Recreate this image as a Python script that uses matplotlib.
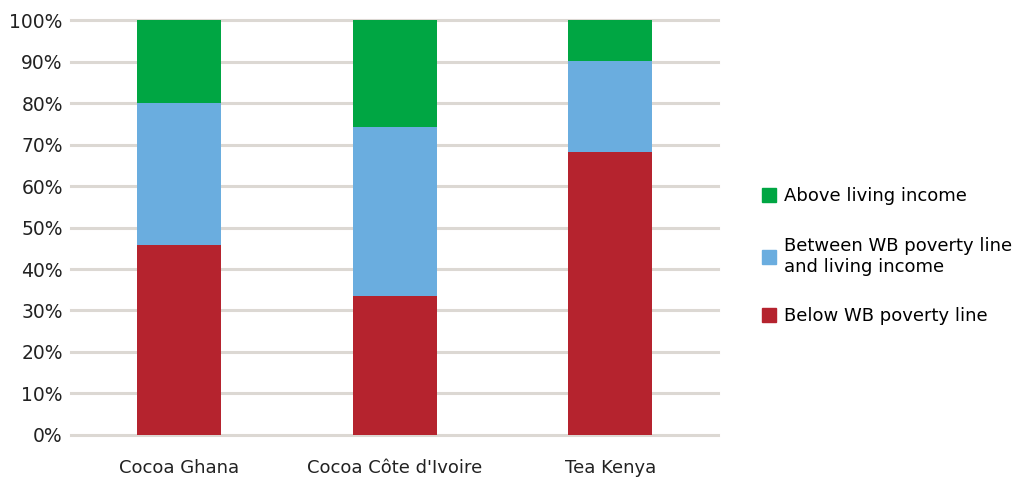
import matplotlib.pyplot as plt
import matplotlib.patches as mpatches
import numpy as np

categories = ["Cocoa Ghana", "Cocoa Côte d'Ivoire", "Tea Kenya"]
below_poverty = [45.8, 33.6, 68.3]
between_lines = [34.2, 40.6, 21.8]
above_income = [20.0, 25.8, 9.9]

series_names = ["Above living income", "Between WB poverty line\nand living income", "Below WB poverty line"]
colors = ["#00a643", "#6aaddf", "#b5232e"]

plt.rcParams['font.family'] = ['Verdana', 'DejaVu Sans']

fig = plt.figure(figsize=(10.17, 4.79), dpi=100)
ax = fig.add_axes([0.07, 0.092, 0.636, 0.866])

x = np.arange(len(categories))
width = 0.39
b1 = np.array(below_poverty) / 100
b2 = np.array(between_lines) / 100
b3 = np.array(above_income) / 100
ax.bar(x, b1, width, color=colors[2], zorder=3)
ax.bar(x, b2, width, bottom=b1, color=colors[1], zorder=3)
ax.bar(x, b3, width, bottom=b1 + b2, color=colors[0], zorder=3)

ax.set_xlim(-0.5, 2.5)
ax.set_ylim(0, 1)
ax.set_yticks(np.arange(0, 1.01, 0.1))
ax.set_yticklabels([f"{int(round(v * 100))}%" for v in np.arange(0, 1.01, 0.1)], fontsize=13.5, color="#222222")
ax.set_xticks(x)
ax.set_xticklabels(categories, fontsize=13, color="#222222")
ax.tick_params(axis='both', length=0)
ax.tick_params(axis='x', pad=17)
ax.tick_params(axis='y', pad=6)

for v in np.arange(0, 1.01, 0.1):
    ax.axhline(v, color="#dcd8d3", lw=2.2, zorder=1, clip_on=False)

for s in ax.spines.values():
    s.set_visible(False)

handles = [mpatches.Patch(color=c) for c in colors]
leg = fig.legend(handles, series_names, loc='center left', bbox_to_anchor=(0.733, 0.465),
                 frameon=False, fontsize=13, handlelength=0.8, handleheight=0.8,
                 handletextpad=0.45, labelspacing=1.75)

plt.savefig("out.png", dpi=100)
